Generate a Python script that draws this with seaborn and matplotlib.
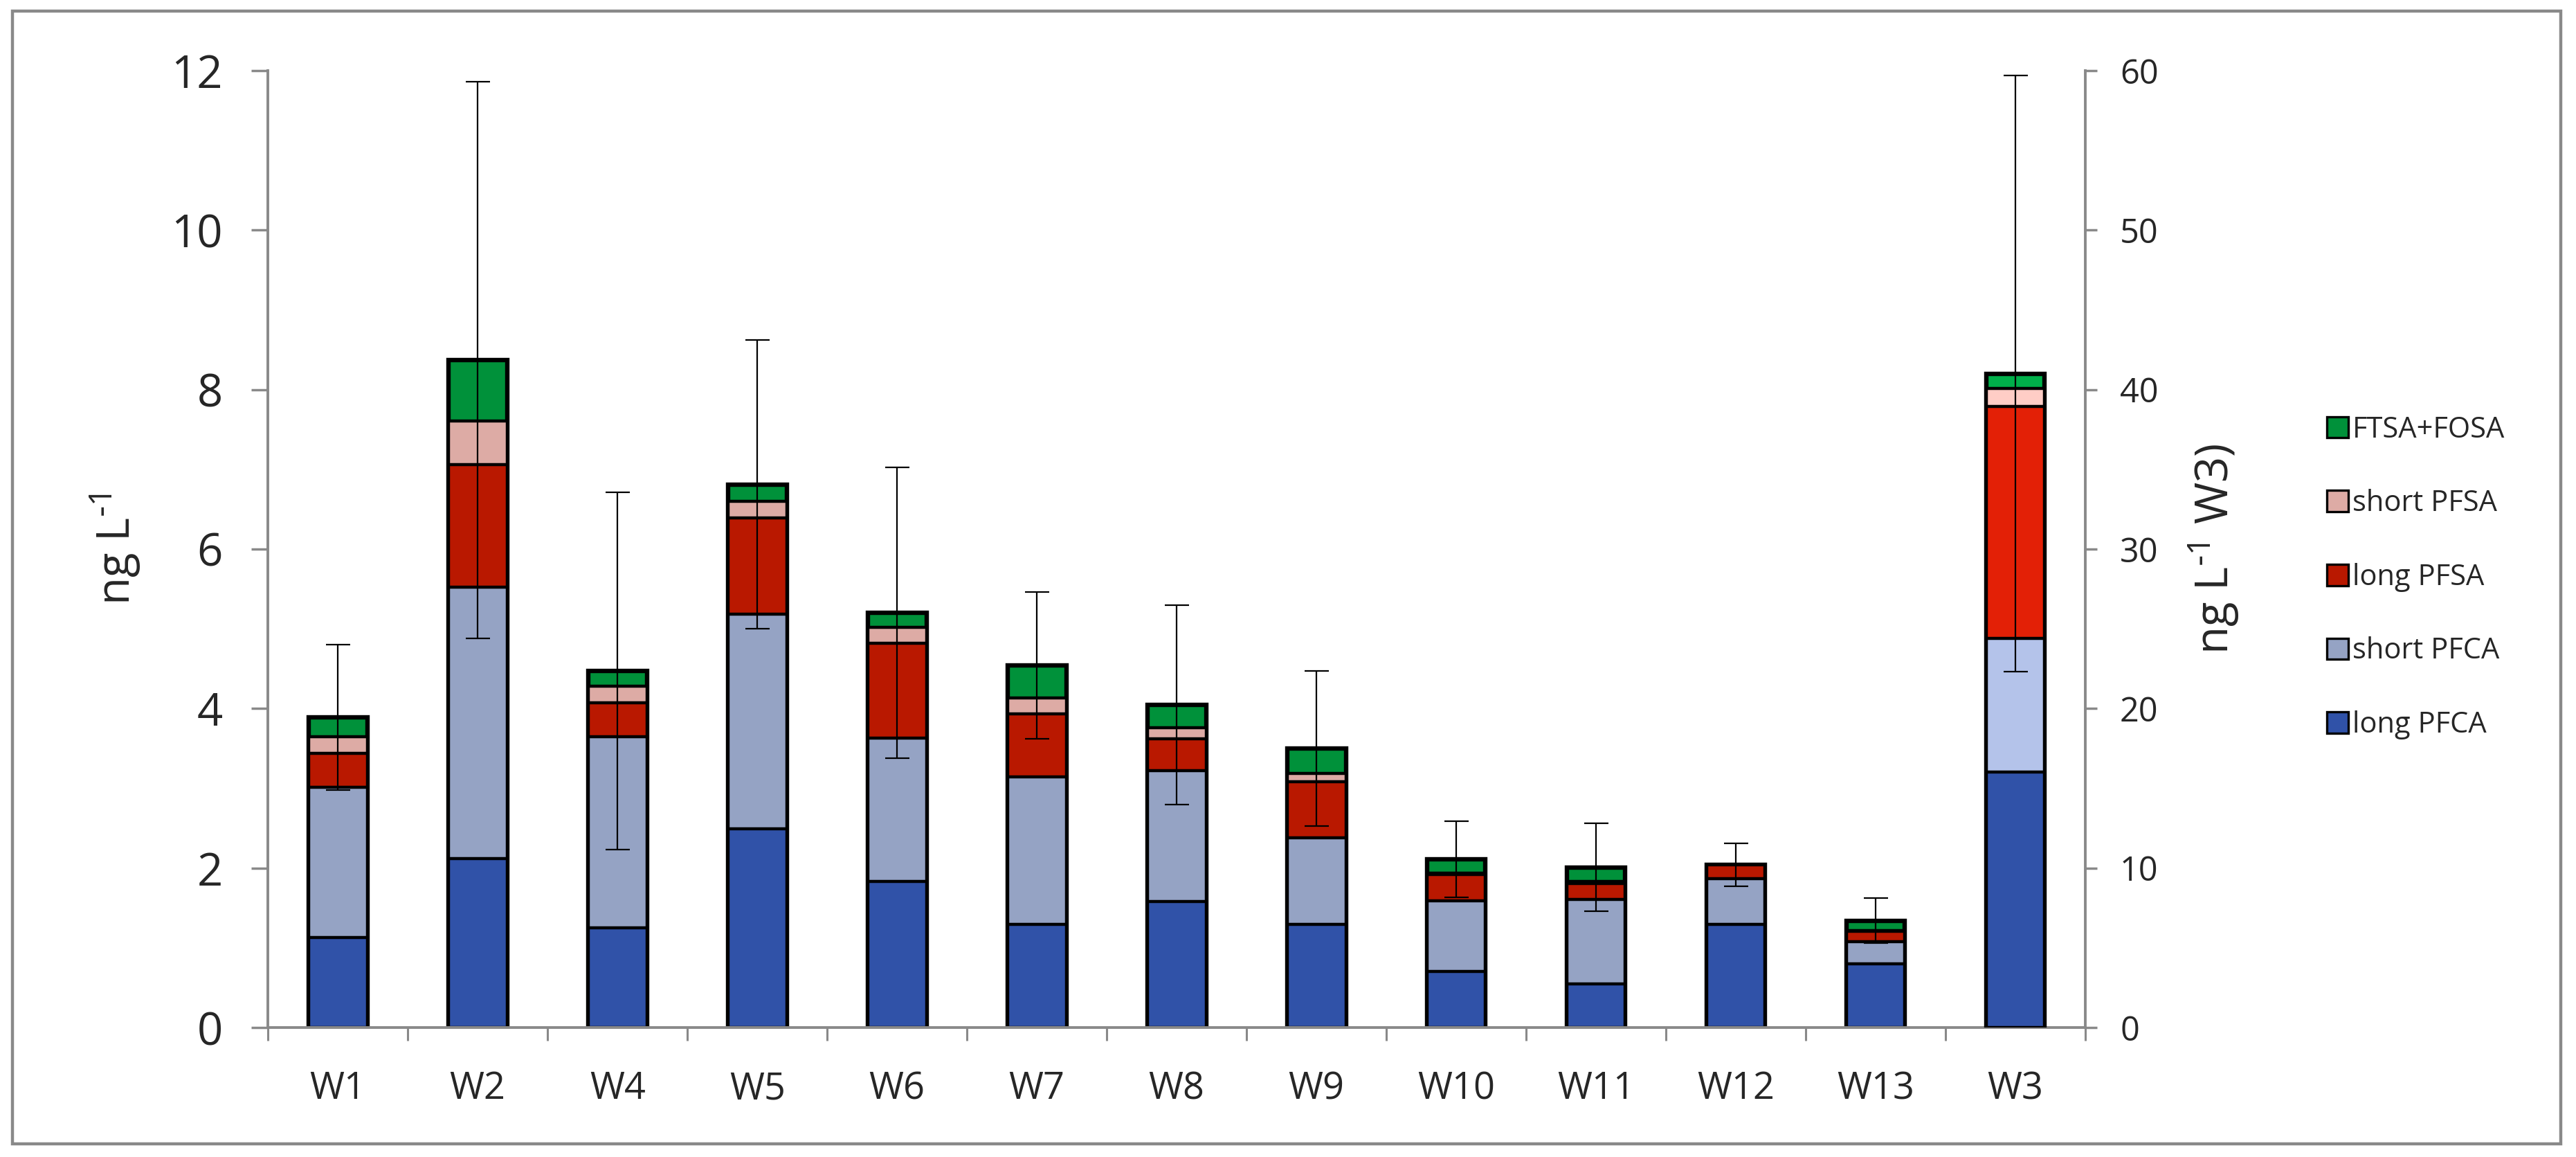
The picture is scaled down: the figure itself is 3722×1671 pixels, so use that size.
import matplotlib.pyplot as plt
import seaborn as sns
import pandas as pd
import numpy as np
from matplotlib.patches import Patch, Rectangle

# Sites, W3 last (plotted on the secondary axis)
sites=["W1","W2","W4","W5","W6","W7","W8","W9","W10","W11","W12","W13","W3"]

# Stacked components (ng/L)
long_pfca=[1.13,2.12,1.25,2.49,1.83,1.29,1.58,1.29,0.70,0.55,1.29,0.80,16.0]
short_pfca=[1.88,3.40,2.40,2.69,1.80,1.85,1.64,1.09,0.89,1.06,0.58,0.28,8.4]
long_pfsa=[0.43,1.54,0.42,1.21,1.19,0.79,0.40,0.70,0.33,0.20,0.17,0.13,14.55]
short_pfsa=[0.21,0.55,0.21,0.21,0.20,0.20,0.14,0.11,0.02,0.02,0.00,0.01,1.1]
ftsa_fosa=[0.24,0.76,0.19,0.21,0.18,0.41,0.29,0.31,0.17,0.18,0.00,0.12,0.95]
err=[0.91,3.49,2.24,1.81,1.82,0.92,1.25,0.97,0.48,0.55,0.27,0.28,18.7]

groups=["long PFCA","short PFCA","long PFSA","short PFSA","FTSA+FOSA"]
main_colors=["#3052A8","#95A3C4","#B91800","#DDABA5","#00913A"]
w3_colors=["#3052A8","#B4C3EA","#E32006","#FFCDC6","#00B04A"]
secondary_site="W3"

gray="#898989"

sns.set_style("white")
plt.rcParams['font.family']=['Open Sans','DejaVu Sans']

# Build dataframe with cumulative heights
df=pd.DataFrame({"site":sites,"long PFCA":long_pfca,"short PFCA":short_pfca,
	"long PFSA":long_pfsa,"short PFSA":short_pfsa,"FTSA+FOSA":ftsa_fosa,"err":err})
cum=df[groups].cumsum(axis=1)
cum["site"]=df["site"]
cum["err"]=df["err"]

fig=plt.figure(figsize=(37.23,16.71),dpi=100)
ax=fig.add_axes([0.104,0.1119,0.7053,0.8271])
ax2=ax.twinx()

main_df=cum[cum["site"]!=secondary_site]
w3_df=cum[cum["site"]==secondary_site]

# Draw cumulative bars from the top layer down so each segment sits on the previous.
# The full-height bar gets a heavier edge so the outer outline looks thicker.
for i in reversed(range(len(groups))):
	lw=4.6 if i==len(groups)-1 else 3.2
	sns.barplot(data=main_df,x="site",y=groups[i],order=sites,color=main_colors[i],
		width=0.42,edgecolor="black",linewidth=lw,errorbar=None,saturation=1,ax=ax)
	sns.barplot(data=w3_df,x="site",y=groups[i],order=sites,color=w3_colors[i],
		width=0.42,edgecolor="black",linewidth=lw,errorbar=None,saturation=1,ax=ax2)

# Error bars on totals
pos_main=[sites.index(s) for s in main_df["site"]]
ax.errorbar(pos_main,main_df[groups[-1]],yerr=main_df["err"],fmt="none",ecolor="black",
	elinewidth=1.6,capsize=12.6,capthick=1.6,zorder=5)
pos_w3=[sites.index(s) for s in w3_df["site"]]
ax2.errorbar(pos_w3,w3_df[groups[-1]],yerr=w3_df["err"],fmt="none",ecolor="black",
	elinewidth=1.6,capsize=12.6,capthick=1.6,zorder=5)

# Axis limits and ticks
ax.set_ylim(0,12)
ax2.set_ylim(0,60)
ax.set_yticks(np.arange(0,13,2))
ax2.set_yticks(np.arange(0,61,10))
ax.set_xlim(-0.5,len(sites)-0.5)
ax.set_xticks(np.arange(len(sites)+1)-0.5)
ax.set_xticklabels([])
ax.set_xticks(np.arange(len(sites)),minor=True)
ax.set_xticklabels(sites,minor=True)

ax.tick_params(axis="x",which="major",direction="out",length=14,width=2.2,color=gray,bottom=True)
ax.tick_params(axis="x",which="minor",length=0,pad=44,labelsize=39,bottom=True)
ax.tick_params(axis="y",direction="out",length=17,width=2.5,color=gray,pad=30,labelsize=47,left=True)
ax2.tick_params(axis="y",direction="out",length=12,width=2.5,color=gray,pad=24,labelsize=35,right=True)

# Spines
for s in ["top","right"]:
	ax.spines[s].set_visible(False)
for s in ["top","left","bottom"]:
	ax2.spines[s].set_visible(False)
for sp in [ax.spines["left"],ax.spines["bottom"],ax2.spines["right"]]:
	sp.set_color(gray)
	sp.set_linewidth(2.8)
ax.grid(False)
ax2.grid(False)

# Labels
ax.set_xlabel("")
ax2.set_xlabel("")
ax.set_ylabel(r"ng L$^{\mathregular{\text{-}1}}$",fontsize=47)
ax.yaxis.set_label_coords(-0.069,0.5)
ax2.set_ylabel(r"ng L$^{\mathregular{\text{-}1}}$ W3)",fontsize=47,rotation=90)
ax2.yaxis.set_label_coords(1.056,0.5)

# Legend (reverse order, top entry = top of stack)
handles=[Patch(facecolor=main_colors[i],edgecolor="black",linewidth=2.4,label=groups[i])
	for i in reversed(range(len(groups)))]
ax2.legend(handles=handles,loc="center left",bbox_to_anchor=(0.903,0.501),
	bbox_transform=fig.transFigure,frameon=False,fontsize=30,handlelength=0.75,
	handleheight=0.75,handletextpad=0.15,labelspacing=1.55,borderpad=0,borderaxespad=0)

# Outer chart border
fig.patches.append(Rectangle((0.0048,0.0114),0.989,0.979,transform=fig.transFigure,
	fill=False,edgecolor=gray,linewidth=3.2))

fig.savefig("out.png",dpi=100)
